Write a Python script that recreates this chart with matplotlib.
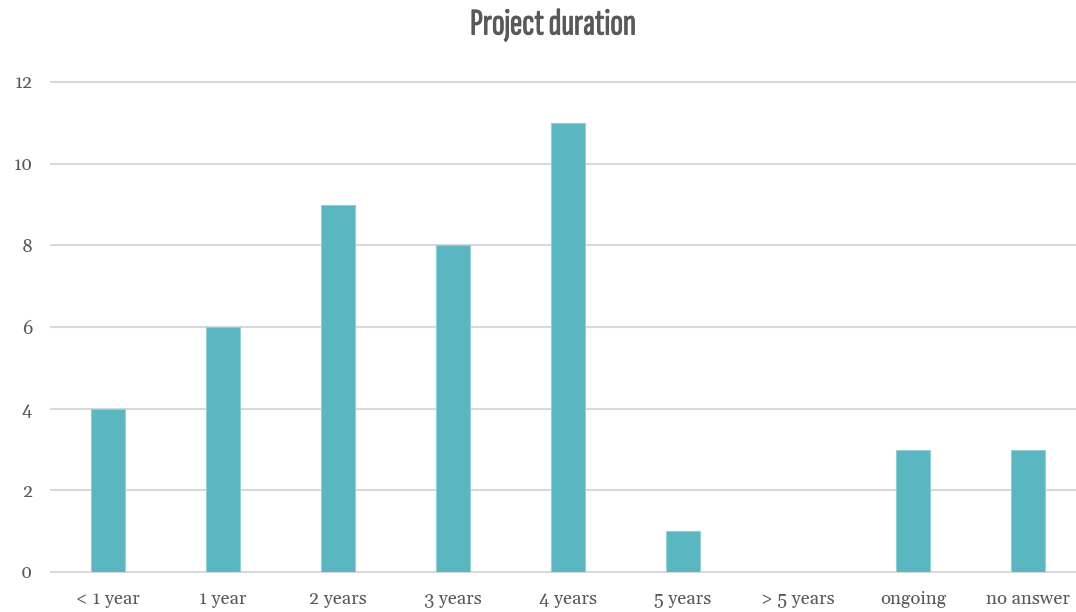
import matplotlib
matplotlib.use("Agg")
import matplotlib.pyplot as plt
import matplotlib.patheffects as pe

# Datos
categories = ["< 1 year", "1 year", "2 years", "3 years", "4 years",
              "5 years", "> 5 years", "ongoing", "no answer"]
values = [4, 6, 9, 8, 11, 1, 0, 3, 3]
yticks = [0, 2, 4, 6, 8, 10, 12]

bar_color = "#5AB6C1"
text_color = "#595959"
grid_color = "#D9D9D9"
serif = ["Gelasio", "Liberation Serif", "DejaVu Serif"]

fig = plt.figure(figsize=(10.76, 6.12), dpi=100)
ax = fig.add_axes([50.5 / 1076, 40 / 612, 1035 / 1076, 490 / 612])

x = range(len(categories))
ax.bar(x, values, width=0.30, color=bar_color, edgecolor="#8FCFD6",
       linewidth=0.8, zorder=3)

ax.set_xlim(-0.5, len(categories) - 0.5)
ax.set_ylim(0, 12)
ax.set_yticks(yticks)
ax.set_xticks(list(x))
ax.set_xticklabels(categories)

for y in yticks:
    ax.axhline(y, color=grid_color, linewidth=1.5, zorder=1, clip_on=False)

for s in ax.spines.values():
    s.set_visible(False)
ax.tick_params(length=0, labelsize=13.3, colors=text_color)
ax.tick_params(axis="x", pad=14)
ax.tick_params(axis="y", pad=13)
for lab in ax.get_xticklabels() + ax.get_yticklabels():
    lab.set_family(serif)
    lab.set_color(text_color)

# Título condensado, engrosado con un trazo fino
fig.text(553 / 1076, 1 - 25 / 612, "Project duration", ha="center", va="center",
         fontsize=27, fontweight="bold", color=text_color,
         family=["Sofia Sans Extra Condensed", "Barlow Condensed", "DejaVu Sans"],
         path_effects=[pe.withStroke(linewidth=0.7, foreground=text_color)])

fig.savefig("out.png", dpi=100)
